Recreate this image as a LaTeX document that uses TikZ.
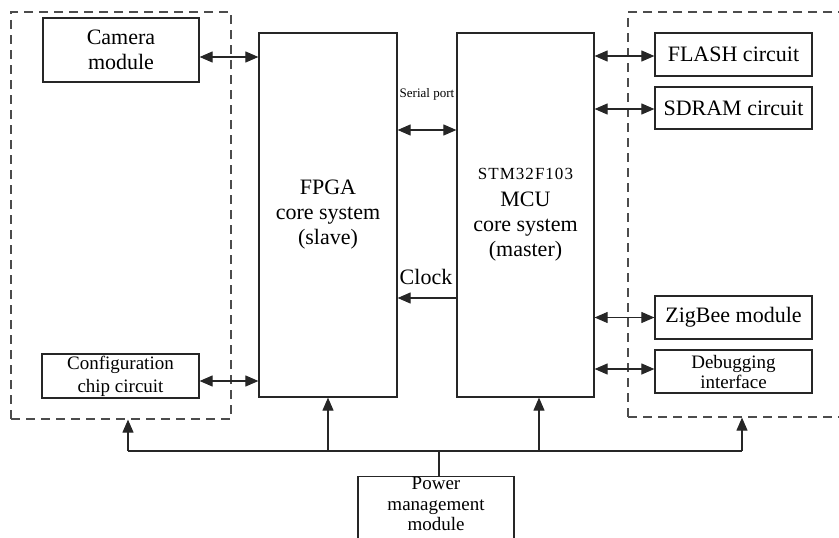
\documentclass[tikz,border=0pt]{standalone}
\usepackage{fontspec}
\setmainfont{Liberation Serif}
\usetikzlibrary{arrows.meta}
\begin{document}
\begin{tikzpicture}[x=1pt,y=-1pt,
  box/.style={draw=black!85, line width=1.2pt, inner sep=0pt, align=center,
    font=\fontsize{22}{25}\selectfont},
  smallbox/.style={box, font=\fontsize{19}{21}\selectfont},
  dashbox/.style={draw=black!70, line width=1.2pt, dash pattern=on 9pt off 6pt, inner sep=0pt},
  biarrow/.style={line width=1.1pt, draw=black!85, {Triangle[length=13pt,width=11pt]}-{Triangle[length=13pt,width=11pt]}},
  onearrow/.style={line width=1.1pt, draw=black!85, -{Triangle[length=13pt,width=11pt]}},
  wire/.style={line width=1.1pt, draw=black!85},
  lbl/.style={inner sep=0pt, font=\fontsize{22}{25}\selectfont}
]
\useasboundingbox (0,0) rectangle (839,538);
\clip (0,0) rectangle (839,538);

% dashed groups
\node[dashbox, minimum width=220pt, minimum height=407pt] (lbox) at (121,215.5) {};
\node[dashbox, minimum width=222pt, minimum height=405pt] (rbox) at (739,214.5) {};

% left modules
\node[box, minimum width=156pt, minimum height=64pt] (cam) at (121,50) {Camera\\module};
\node[smallbox, minimum width=157pt, minimum height=44pt, font=\fontsize{19}{23}\selectfont] (conf) at (120.5,376) {Configuration\\chip circuit};

% cores
\node[box, minimum width=138pt, minimum height=364pt] (fpga) at (328,215) {FPGA\\core system\\(slave)};
\node[box, minimum width=137pt, minimum height=364pt] (mcu) at (525.5,215)
  {{\fontsize{17}{20}\selectfont\addfontfeature{LetterSpace=6}STM32F103}\\[2pt]MCU\\core system\\(master)};

% right modules
\node[box, minimum width=157pt, minimum height=43pt] (flash) at (733.5,54.5) {FLASH circuit};
\node[box, minimum width=157pt, minimum height=42pt] (sdram) at (733.5,108) {SDRAM circuit};
\node[box, minimum width=157pt, minimum height=43pt] (zig) at (733.5,317.5) {ZigBee module};
\node[smallbox, minimum width=157pt, minimum height=43pt, font=\fontsize{19}{20}\selectfont] (dbg) at (733.5,371.5) {Debugging\\interface};

% power
\node[draw=black!85, line width=1.2pt, anchor=north, minimum width=156pt, minimum height=90pt, inner sep=0pt] (power) at (436,476) {};
\node[anchor=north, align=center, inner sep=0pt, font=\fontsize{19}{20.5}\selectfont] (powertxt) at ([yshift=-1pt]power.north) {Power\\management\\module};

% left connectors
\draw[biarrow] ([yshift=-7pt]cam.east) -- ([yshift=-7pt]cam.east -| fpga.west);
\draw[biarrow] ([yshift=-5pt]conf.east) -- ([yshift=-5pt]conf.east -| fpga.west);

% serial port and clock
\coordinate (sp) at ([yshift=85pt]fpga.east);
\draw[biarrow] (sp) -- (sp -| mcu.west);
\node[inner sep=0pt, font=\fontsize{13}{15}\selectfont] (splbl) at (427,94) {Serial port};
\coordinate (ck) at ([yshift=-83pt]mcu.west);
\draw[onearrow] (ck) -- (ck -| fpga.east);
\node[lbl] (cklbl) at (426,277) {Clock};

% right connectors
\coordinate (m1) at (mcu.east |- flash.west);
\draw[biarrow] ([yshift=-1.5pt]m1) -- ([yshift=-1.5pt]flash.west);
\coordinate (m2) at (mcu.east |- sdram.west);
\draw[biarrow] ([yshift=-1pt]m2) -- ([yshift=-1pt]sdram.west);
\coordinate (m3) at (mcu.east |- zig.west);
\draw[biarrow] (m3) -- (zig.west);
\coordinate (m4) at (mcu.east |- dbg.west);
\draw[biarrow] ([yshift=2.5pt]m4) -- ([yshift=2.5pt]dbg.west);

% power bus
\coordinate (pp) at ([xshift=3pt]power.north);
\coordinate (bus) at ([yshift=25pt]pp);
\coordinate (pl) at ([xshift=7pt]lbox.south);
\coordinate (pr) at ([xshift=3pt]rbox.south);
\coordinate (pm) at ([xshift=13.5pt]mcu.south);
\draw[wire] (pp) -- (bus);
\draw[wire] (pl |- bus) -- (pr |- bus);
\draw[onearrow] (pl |- bus) -- (pl);
\draw[onearrow] (fpga.south |- bus) -- (fpga.south);
\draw[onearrow] (pm |- bus) -- (pm);
\draw[onearrow] (pr |- bus) -- (pr);
\end{tikzpicture}
\end{document}
